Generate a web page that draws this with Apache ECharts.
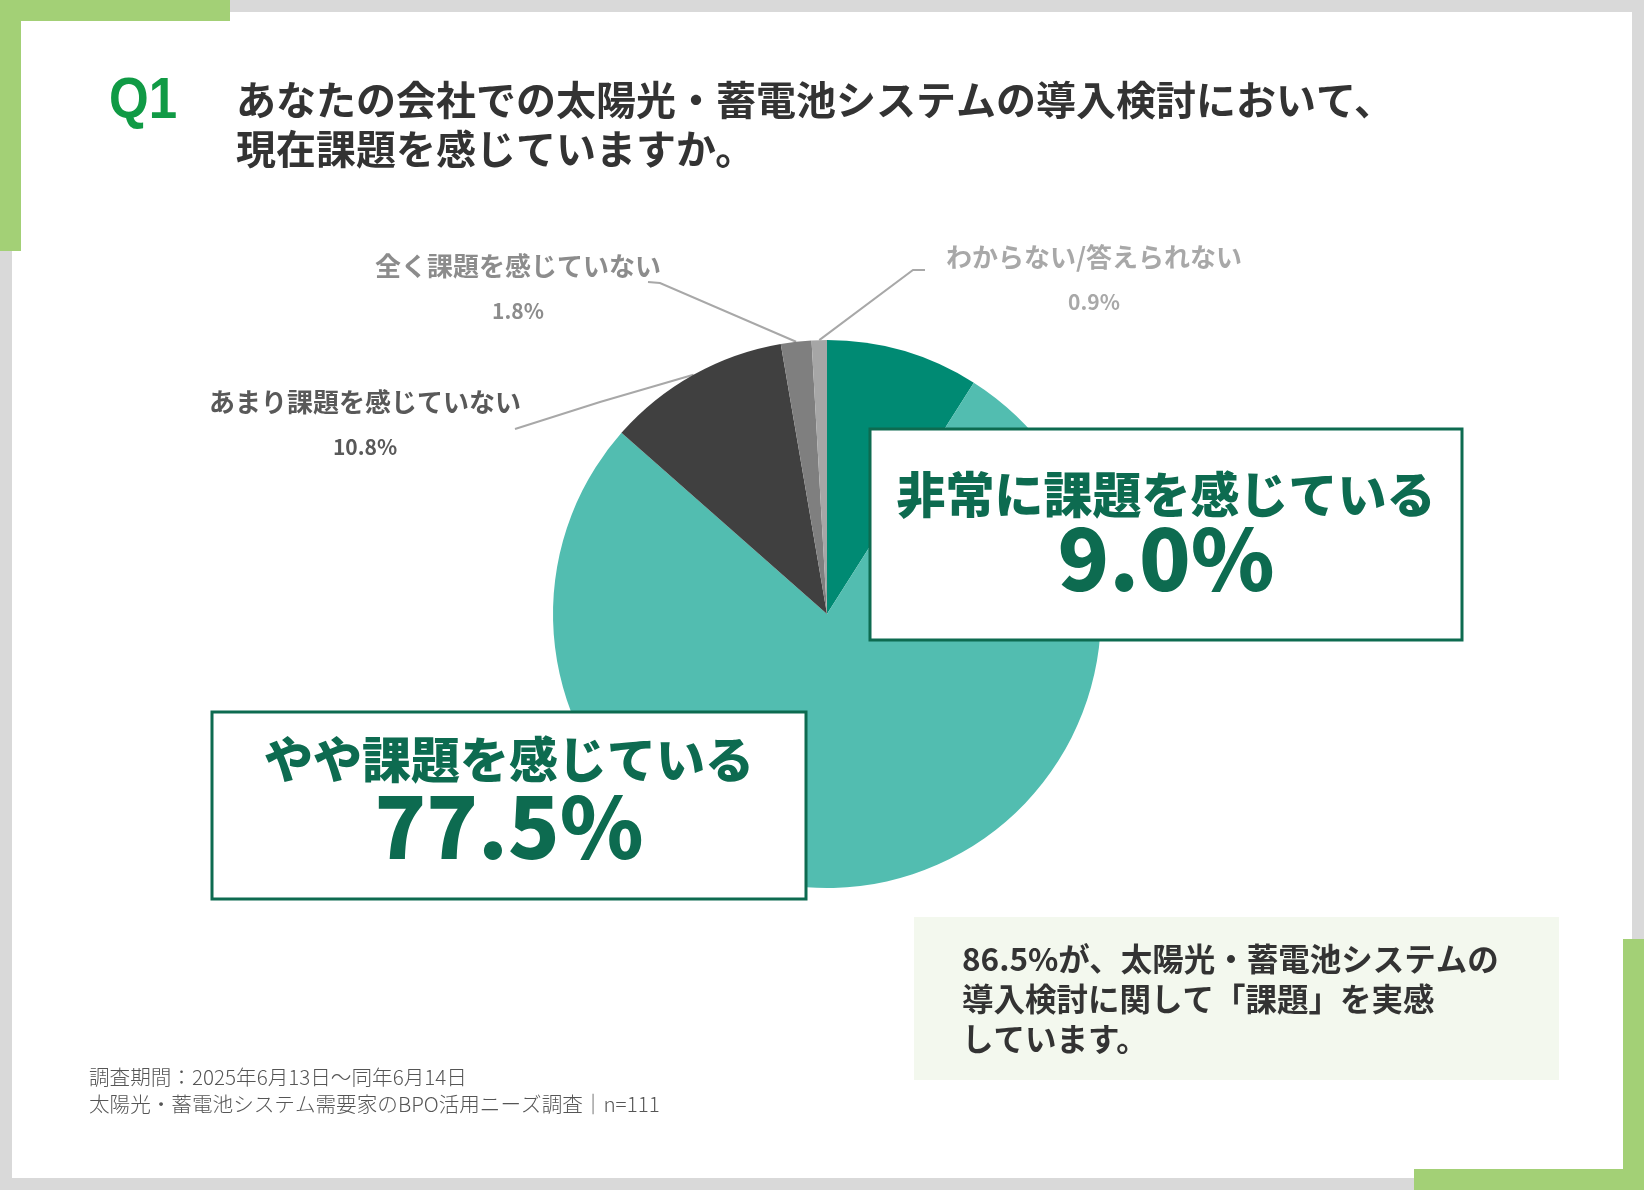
<!DOCTYPE html>
<html lang="ja">
<head>
<meta charset="utf-8">
<title>Q1 太陽光・蓄電池システム導入検討の課題</title>
<script src="https://cdn.jsdelivr.net/npm/echarts@6/dist/echarts.min.js"></script>
<style>
  html, body { margin: 0; padding: 0; background: #fff; }
  #chart { width: 1644px; height: 1190px; }
</style>
</head>
<body>
<div id="chart"></div>
<script>
// answers, clockwise from 12 o'clock
const categories = [
  '非常に課題を感じている',
  'やや課題を感じている',
  'あまり課題を感じていない',
  '全く課題を感じていない',
  'わからない/答えられない'
];
const values = [9.0, 77.5, 10.8, 1.8, 0.9];
const sliceColors = ['#008a73', '#52bdb0', '#404040', '#7f7f7f', '#a6a6a6'];
const labelColors = ['#0d6b50', '#0d6b50', '#595959', '#8c8c8c', '#a8a8a8'];
const boxedItems = [0, 1];   // these two get the big framed callouts

const questionNo = 'Q1';
const questionLines = [
  'あなたの会社での太陽光・蓄電池システムの導入検討において、',
  '現在課題を感じていますか。'
];
const summaryTail = ['が、太陽光・蓄電池システムの', '導入検討に関して「課題」を実感', 'しています。'];
const footerLines = [
  '調査期間：2025年6月13日～同年6月14日',
  '太陽光・蓄電池システム需要家のBPO活用ニーズ調査｜n=111'
];

const JP = '"Noto Sans CJK JP", "Noto Sans", sans-serif';
const GREEN = '#0d6b50';
const ACCENT = '#a3d076';

const pct = v => v.toFixed(1) + '%';
const feelIt = pct(values[0] + values[1]);

// where the outside labels sit, and where their leader lines end
const labelSpots = {
  2: { x: 365, y: 425, bend: [600, 402], end: [515, 429] },
  3: { x: 518, y: 289, bend: [660, 283], end: [648, 282] },
  4: { x: 1094, y: 280, bend: [913, 270], end: [925, 270] }
};

// framed callouts for the two large slices
const boxes = [
  { x: 870, y: 429, w: 592, h: 211, nameY: 494, valY: 559 },
  { x: 212, y: 712, w: 594, h: 187, nameY: 759, valY: 827 }
];

const chart = echarts.init(document.getElementById('chart'));

const pieData = categories.map((name, i) => {
  const boxed = boxedItems.includes(i);
  return {
    name: name,
    value: values[i],
    itemStyle: { color: sliceColors[i] },
    label: { show: !boxed, color: labelColors[i] },
    labelLine: { show: !boxed }
  };
});

const graphics = [
  // frame
  { type: 'rect', z: -10, shape: { x: 0, y: 0, width: 1644, height: 1190 }, style: { fill: '#d9d9d9' } },
  { type: 'rect', z: -9, shape: { x: 12, y: 12, width: 1620, height: 1166 }, style: { fill: '#ffffff' } },
  { type: 'rect', z: -8, shape: { x: 0, y: 0, width: 21, height: 251 }, style: { fill: ACCENT } },
  { type: 'rect', z: -8, shape: { x: 0, y: 0, width: 230, height: 21 }, style: { fill: ACCENT } },
  { type: 'rect', z: -8, shape: { x: 1623, y: 939, width: 21, height: 251 }, style: { fill: ACCENT } },
  { type: 'rect', z: -8, shape: { x: 1414, y: 1169, width: 230, height: 21 }, style: { fill: ACCENT } },
  // question
  {
    type: 'text', x: 109, y: 102, scaleX: 0.88, z: 5,
    style: { text: questionNo, font: 'bold 58px "Liberation Sans", Arial, sans-serif', fill: '#109a45', verticalAlign: 'middle' }
  },
  {
    type: 'text', x: 236, y: 75, z: 5,
    style: { text: questionLines.join('\n'), font: 'bold 40px ' + JP, lineHeight: 49, fill: '#333333', verticalAlign: 'top' }
  },
  // summary
  { type: 'rect', z: -5, shape: { x: 914, y: 917, width: 645, height: 163 }, style: { fill: '#f3f8ee' } },
  {
    type: 'text', x: 962, y: 939, z: 5,
    style: {
      text: [feelIt + summaryTail[0], summaryTail[1], summaryTail[2]].join('\n'),
      font: 'bold 31.5px ' + JP, lineHeight: 40, fill: '#333333', verticalAlign: 'top'
    }
  },
  // source
  {
    type: 'text', x: 89, y: 1064, z: 5,
    style: { text: footerLines.join('\n'), font: '300 20.6px ' + JP, lineHeight: 27, fill: '#555555', verticalAlign: 'top' }
  }
];

boxedItems.forEach((idx, k) => {
  const b = boxes[k];
  const cx = b.x + b.w / 2;
  graphics.push(
    { type: 'rect', z: 20, shape: { x: b.x, y: b.y, width: b.w, height: b.h }, style: { fill: '#ffffff', stroke: GREEN, lineWidth: 3 } },
    {
      type: 'text', z: 21, x: cx, y: b.nameY,
      style: { text: categories[idx], font: '900 49px ' + JP, fill: GREEN, align: 'center', verticalAlign: 'middle' }
    },
    {
      type: 'text', z: 21, x: cx, y: b.valY,
      style: { text: pct(values[idx]), font: '900 85px ' + JP, fill: GREEN, align: 'center', verticalAlign: 'middle' }
    }
  );
});

const option = {
  backgroundColor: '#ffffff',
  animation: false,
  series: [
    {
      type: 'pie',
      center: [827, 614],
      radius: [0, 274],
      startAngle: 90,
      clockwise: true,
      avoidLabelOverlap: false,
      emphasis: { disabled: true },
      itemStyle: { borderWidth: 0 },
      label: {
        position: 'outside',
        formatter: p => '{n|' + p.name + '}\n{v|' + pct(p.value) + '}',
        rich: {
          n: { fontFamily: JP, fontWeight: 'bold', fontSize: 26, lineHeight: 45 },
          v: { fontFamily: JP, fontWeight: 'bold', fontSize: 21, lineHeight: 45 }
        }
      },
      labelLine: {
        length: 20,
        length2: 20,
        lineStyle: { color: '#a8a8a8', width: 2 }
      },
      labelLayout: function (p) {
        const s = labelSpots[p.dataIndex];
        if (!s) return {};
        const out = { x: s.x, y: s.y, align: 'center', verticalAlign: 'middle' };
        if (p.labelLinePoints && p.labelLinePoints.length) {
          out.labelLinePoints = [p.labelLinePoints[0], s.bend, s.end];
        }
        return out;
      },
      data: pieData
    }
  ],
  graphic: graphics
};

chart.setOption(option);
</script>
</body>
</html>
